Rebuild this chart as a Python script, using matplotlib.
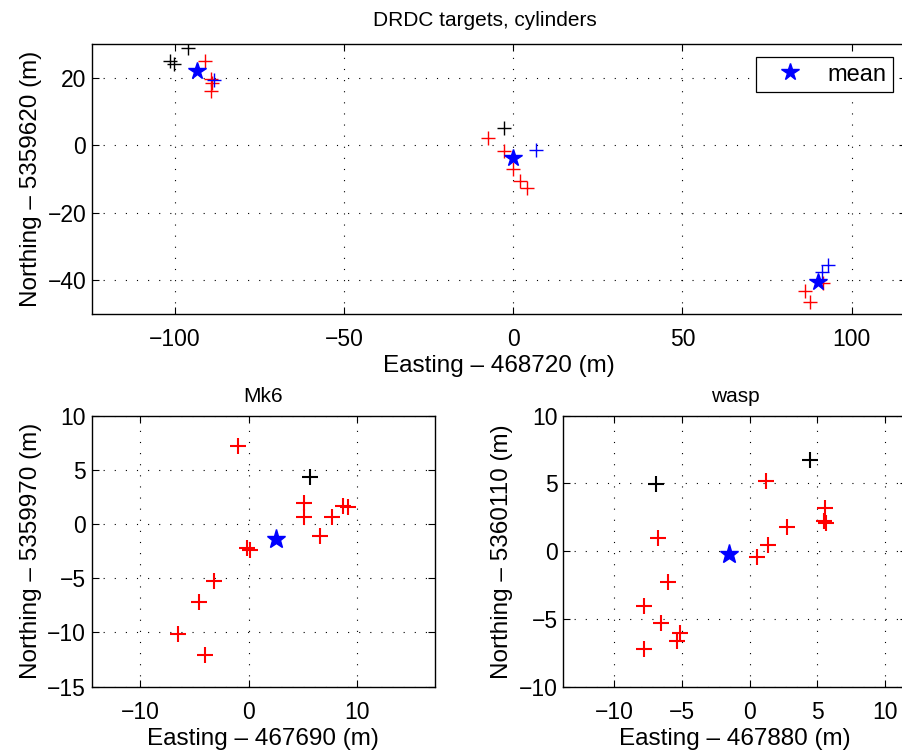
import numpy as np
import matplotlib
matplotlib.use('Agg')
import matplotlib.pyplot as plt

plt.rcParams['font.family'] = ['Liberation Sans', 'DejaVu Sans']
plt.rcParams['font.size'] = 16.5
plt.rcParams['axes.unicode_minus'] = True

# overview: all cylinder targets (offsets from 468720 E, 5359620 N)
ALL_BLACK_X = [-96.0, -101.5, -100.3, -2.7]
ALL_BLACK_Y = [28.7, 24.9, 24.0, 5.0]
ALL_RED_X = [-91.1, -89.4, -89.1, -89.4, -7.6, -2.7, -0.2, 2.0, 4.1, 91.6, 86.2, 87.7]
ALL_RED_Y = [25.0, 19.5, 18.4, 16.0, 2.0, -1.7, -7.1, -10.7, -12.8, -41.0, -43.2, -46.5]
ALL_BLUE_X = [-88.6, 6.7, 93.1, 91.2]
ALL_BLUE_Y = [19.3, -1.5, -35.6, -37.6]
ALL_MEAN_X = [-93.6, 0.0, 90.2]
ALL_MEAN_Y = [22.0, -3.9, -40.7]

# Mk6 (offsets from 467690 E, 5359970 N)
MK6_BLACK_X = [5.70]
MK6_BLACK_Y = [4.33]
MK6_RED_X = [-0.98, 5.14, 5.14, 8.68, 9.14, 7.70, 6.56, -0.15, 0.15, -3.23, -4.58, -6.46, -4.0]
MK6_RED_Y = [7.22, 1.99, 0.61, 1.69, 1.57, 0.61, -1.14, -2.2, -2.4, -5.23, -7.17, -10.12, -12.06]
MK6_MEAN = [2.53, -1.38]

# wasp (offsets from 467880 E, 5360110 N)
WASP_BLACK_X = [4.43, -6.88]
WASP_BLACK_Y = [6.70, 4.99]
WASP_RED_X = [1.23, 5.58, 5.53, 5.63, 2.76, 1.38, 0.57, -6.76, -6.02, -7.77, -6.51, -5.11, -5.36, -7.77]
WASP_RED_Y = [5.16, 3.20, 2.26, 2.09, 1.77, 0.49, -0.44, 0.94, -2.25, -4.05, -5.33, -6.01, -6.63, -7.25]
WASP_MEAN = [-1.55, -0.24]

GRID_STYLE = dict(color='black', linestyle=(0, (1, 9)), linewidth=0.8)
LABEL_FS = 17.5
TITLE_FS = 15


# matlab-ish look: boxed axes, inward ticks on all sides, dotted grid
def style_axes(ax):
	ax.tick_params(direction='in', length=5, width=0.8, top=True, right=True)
	ax.tick_params(axis='x', pad=10)
	ax.tick_params(axis='y', pad=4)
	for sp in ax.spines.values():
		sp.set_linewidth(1.0)
	ax.grid(True, **GRID_STYLE)
	ax.set_axisbelow(True)


fig = plt.figure(figsize=(9.02, 7.55), dpi=100)

# top panel
ax = fig.add_axes([0.1017, 0.5837, 0.9027, 0.358])
ax.plot(ALL_BLACK_X, ALL_BLACK_Y, '+', color='black', ms=10, mew=1)
ax.plot(ALL_RED_X, ALL_RED_Y, '+', color='red', ms=10, mew=1)
ax.plot(ALL_BLUE_X, ALL_BLUE_Y, '+', color='blue', ms=10, mew=1)
ax.plot(ALL_MEAN_X, ALL_MEAN_Y, '*', color='blue', ms=13, label='mean')
ax.set_xlim(-124.6, 116.1)
ax.set_ylim(-50.2, 30.0)
ax.set_xticks([-100, -50, 0, 50, 100])
ax.set_yticks([-40, -20, 0, 20])
style_axes(ax)
ax.set_title('DRDC targets, cylinders', x=0.483, pad=13, fontsize=TITLE_FS)
ax.set_xlabel('Easting \u2013 468720 (m)', labelpad=3, fontsize=LABEL_FS)
ax.set_ylabel('Northing \u2013 5359620 (m)', fontsize=LABEL_FS)
leg = ax.legend(loc='upper right', borderaxespad=0.55, fancybox=False, fontsize=17,
	framealpha=1, edgecolor='black', handlelength=2.3, handletextpad=0.45, borderpad=0.28)
leg.get_frame().set_linewidth(0.9)

# Mk6
ax = fig.add_axes([0.1017, 0.0905, 0.3806, 0.3589])
ax.plot(MK6_BLACK_X, MK6_BLACK_Y, '+', color='black', ms=11.5, mew=1.5)
ax.plot(MK6_RED_X, MK6_RED_Y, '+', color='red', ms=11.5, mew=1.5)
ax.plot(MK6_MEAN[0], MK6_MEAN[1], '*', color='blue', ms=14)
ax.set_xlim(-14.46, 17.2)
ax.set_ylim(-15, 10)
ax.set_xticks([-10, 0, 10])
ax.set_yticks([-15, -10, -5, 0, 5, 10])
style_axes(ax)
ax.set_title('Mk6', pad=10, fontsize=TITLE_FS)
ax.set_xlabel('Easting \u2013 467690 (m)', labelpad=3, fontsize=LABEL_FS)
ax.set_ylabel('Northing \u2013 5359970 (m)', fontsize=LABEL_FS)

# wasp
ax = fig.add_axes([0.6245, 0.0905, 0.3806, 0.3589])
ax.plot(WASP_BLACK_X, WASP_BLACK_Y, '+', color='black', ms=11.5, mew=1.5)
ax.plot(WASP_RED_X, WASP_RED_Y, '+', color='red', ms=11.5, mew=1.5)
ax.plot(WASP_MEAN[0], WASP_MEAN[1], '*', color='blue', ms=14)
ax.set_xlim(-13.76, 11.6)
ax.set_ylim(-10, 10)
ax.set_xticks([-10, -5, 0, 5, 10])
ax.set_yticks([-10, -5, 0, 5, 10])
style_axes(ax)
ax.set_title('wasp', pad=10, fontsize=TITLE_FS)
ax.set_xlabel('Easting \u2013 467880 (m)', labelpad=3, fontsize=LABEL_FS)
ax.set_ylabel('Northing \u2013 5360110 (m)', fontsize=LABEL_FS)

fig.savefig('out.png', dpi=100)
